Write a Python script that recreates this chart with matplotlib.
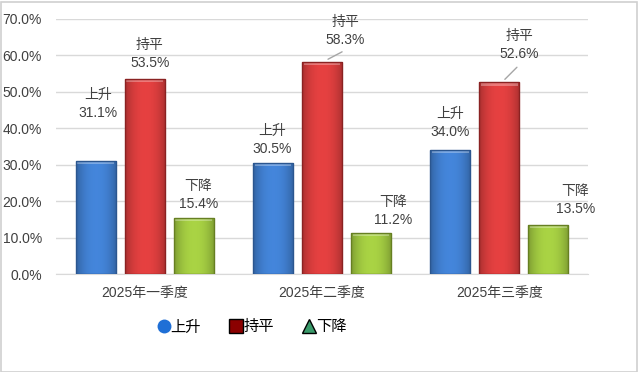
import matplotlib
matplotlib.use("Agg")
import matplotlib.pyplot as plt
from matplotlib.lines import Line2D
from matplotlib.patches import Rectangle
from matplotlib.colors import to_rgb
import numpy as np

plt.rcParams['font.family'] = ['Liberation Sans', 'Noto Sans CJK SC', 'DejaVu Sans']

categories = ['2025年一季度', '2025年二季度', '2025年三季度']
series_names = ['上升', '持平', '下降']
rise = [31.1, 30.5, 34.0]
flat = [53.5, 58.3, 52.6]
fall = [15.4, 11.2, 13.5]
yticks = [0, 10, 20, 30, 40, 50, 60, 70]

face_colors = ['#3F7CCB', '#D53C3C', '#9DC43F']
edge_colors = ['#2B568F', '#8A2222', '#667F22']
legend_colors = ['#1F6FD6', '#8B0000', '#3A9A6A']
legend_markers = ['o', 's', '^']

# label offsets in pixels (dx, dy from bar top center) and whether a leader line is drawn
label_offsets = [
    [(2, 57), (5, 25), (5, 23)],
    [(-1, 23), (23, 31), (22, 22)],
    [(0, 27), (20, 37), (27, 25)],
]
leaders = [
    [False, False, False],
    [False, True, False],
    [False, True, False],
]

W, H = 638, 372
fig = plt.figure(figsize=(W / 100, H / 100), dpi=100)
fig.patch.set_facecolor('white')
fig.add_artist(Rectangle((0.5 / W, 0.5 / H), 1 - 2 / W, 1 - 2 / H, transform=fig.transFigure,
                         fill=False, edgecolor='#D0D0D0', linewidth=1.2))

ax = fig.add_axes([56 / W, 1 - 274 / H, 532 / W, (274 - 19) / H])
x = np.arange(len(categories))
spacing = 0.276
width = 0.226
text_color = '#404040'


def gradient_img(color, n=64):
    base = np.array(to_rgb(color))
    t = np.linspace(-1, 1, n)
    # lighter in the middle, darker at the sides
    f = 1.08 - 0.28 * np.abs(t) ** 2.2
    row = np.clip(base[None, :] * f[:, None], 0, 1)
    return row[None, :, :]


all_series = [rise, flat, fall]
for si, vals in enumerate(all_series):
    xs = x + (si - 1) * spacing
    bars = ax.bar(xs, vals, width=width, color=face_colors[si], edgecolor=edge_colors[si],
                  linewidth=1.0, zorder=3)
    img = gradient_img(face_colors[si])
    for b in bars:
        bx, by, bw, bh = b.get_x(), b.get_y(), b.get_width(), b.get_height()
        im = ax.imshow(img, extent=(bx, bx + bw, by, by + bh), aspect='auto',
                       interpolation='bilinear', zorder=3.5, origin='lower')
        im.set_clip_path(b)
        # top bevel highlight
        ax.add_patch(Rectangle((bx + bw * 0.04, by + bh - 0.9), bw * 0.92, 0.7,
                               facecolor='white', alpha=0.3, linewidth=0, zorder=4))
        b.set_facecolor('none')
        b.set_zorder(4.2)
    for gi, (xx, v) in enumerate(zip(xs, vals)):
        dx, dy = label_offsets[gi][si]
        txt = f'{series_names[si]}\n{v:.1f}%'
        ax.annotate(txt, xy=(xx, v), xytext=(dx, dy), textcoords='offset pixels',
                    ha='center', va='center', fontsize=10, color=text_color,
                    linespacing=1.35, zorder=5)
        if leaders[gi][si]:
            ax.annotate('', xy=(xx + 0.02, v + 0.3), xytext=(dx - 4, dy - 21),
                        textcoords='offset pixels', xycoords='data',
                        arrowprops=dict(arrowstyle='-', color='#A6A6A6', lw=1.0), zorder=5)

ax.set_xlim(-0.5, 2.5)
ax.set_ylim(0, 70)
ax.set_yticks(yticks)
ax.set_yticklabels([f'{t:.1f}%' for t in yticks], fontsize=10, color=text_color)
ax.set_xticks(x)
ax.set_xticklabels(categories, fontsize=10, color=text_color,
                   fontfamily=['Liberation Sans', 'Noto Sans CJK SC'])
ax.tick_params(axis='y', length=0, pad=10)
ax.tick_params(axis='x', length=0, pad=9)
ax.grid(axis='y', color='#D9D9D9', linewidth=1.0, zorder=0)
ax.set_axisbelow(True)
for s in ['top', 'right', 'left']:
    ax.spines[s].set_visible(False)
ax.spines['bottom'].set_color('#D9D9D9')
ax.set_facecolor('white')

handles = [Line2D([0], [0], marker=m, linestyle='none', markersize=10,
                  markerfacecolor=c, markeredgecolor=('none' if m == 'o' else 'black'),
                  markeredgewidth=1.0, label=n)
           for m, c, n in zip(legend_markers, legend_colors, series_names)]
fig.legend(handles=handles, loc='center', bbox_to_anchor=(252 / W, 1 - 327 / H), ncol=3,
           frameon=False, handlelength=0.8, handletextpad=0.05, columnspacing=1.9,
           prop={'family': ['Noto Sans CJK SC'], 'size': 11})

fig.savefig('out.png', dpi=100, facecolor='white')
